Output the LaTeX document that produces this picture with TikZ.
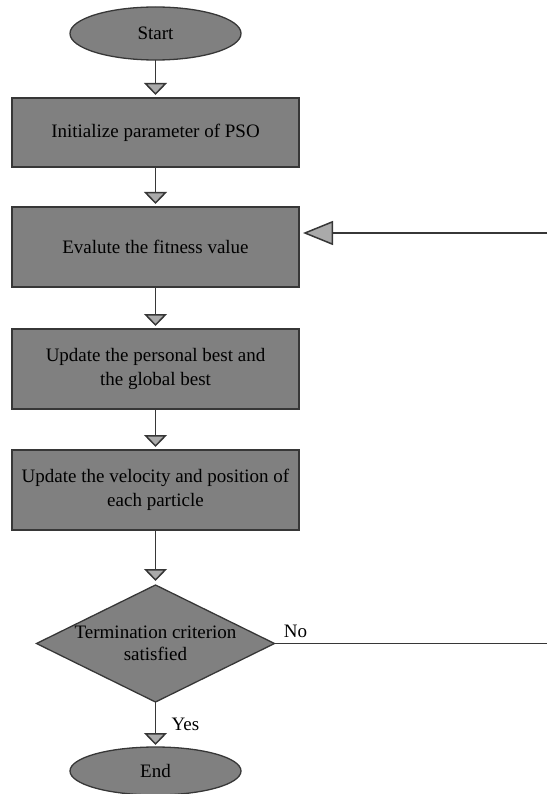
\documentclass[tikz,border=0pt]{standalone}
\usepackage{fontspec}
\setmainfont{Liberation Serif}
\usetikzlibrary{arrows.meta, shapes.geometric}
\usetikzlibrary{positioning}
\definecolor{boxgray}{RGB}{128,128,128}
\definecolor{edgegray}{RGB}{55,55,55}
\definecolor{tipgray}{RGB}{170,170,170}
\tikzstyle{terminal} = [
    ellipse, 
    draw=edgegray, 
    fill=boxgray, 
    line width=1.3pt, 
    inner sep=0pt, 
    outer sep=0pt, 
    minimum width=171pt, 
    minimum height=53pt
]
\tikzstyle{process} = [
    rectangle, 
    draw=edgegray, 
    fill=boxgray, 
    line width=1.5pt, 
    align=center, 
    inner sep=0pt, % text of the 4th box is nearly as wide as the box
    outer sep=0pt, 
    minimum width=287pt, 
    minimum height=80pt
]
\tikzstyle{decision} = [
    diamond, 
    draw=edgegray, 
    fill=boxgray, 
    line width=1.3pt, 
    inner sep=0pt, 
    outer sep=0pt, 
    minimum width=238pt, 
    minimum height=117pt
]
\tikzstyle{flow} = [
    draw=edgegray, 
    line width=1.5pt, 
    -{Triangle[length=12pt, width=23pt, fill=tipgray, line width=1.5pt]}, 
    shorten >=3pt
]
\tikzstyle{back_flow} = [
    draw=edgegray, 
    line width=1.5pt, 
    -{Triangle[length=30pt, width=24pt, fill=tipgray, line width=1.5pt]}, 
    shorten >=4pt
]

\begin{document}
\begin{tikzpicture}[
    x=1pt, y=1pt, 
    every node/.style={font=\fontsize{19pt}{24pt}\selectfont}
]
\useasboundingbox (0,0) rectangle (547,-794);

\node [terminal] (start) at (155.5,-33.5) {Start};
\node [process, minimum height=69pt, below=38pt of start] (init) {Initialize parameter of PSO};
\node [process, below=40pt of init] (evaluate) {Evalute the fitness value};
\node [process, below=42pt of evaluate] (best) {Update the personal best and\\the global best};
\node [process, below=41pt of best] (velocity) {Update the velocity and position of\\each particle};
\node [decision, below=55pt of velocity, 
    label={[align=center, font=\fontsize{19pt}{22pt}\selectfont]center:Termination criterion\\satisfied}] (check) {};
\node [terminal, minimum height=48pt, below=45pt of check] (finish) {End};

% loop back (vertical part lies outside the picture)
\coordinate (loop_out) at (547,0);
\coordinate (loop_in) at (547,-233);

\draw [flow] (start) -- (init);
\draw [flow] (init) -- (evaluate);
\draw [flow] (evaluate) -- (best);
\draw [flow] (best) -- (velocity);
\draw [flow, shorten >=4pt] (velocity) -- (check);
\draw [flow, shorten >=2pt] (check) -- node [pos=0.5, right=12pt] {Yes} (finish);
\draw [draw=edgegray, line width=1.5pt] (check.east) -- node [pos=0.077, above, inner sep=5pt] {No} (check.east -| loop_out);
\draw [back_flow] (loop_in) -- (loop_in -| evaluate.east);
\end{tikzpicture}
\end{document}
